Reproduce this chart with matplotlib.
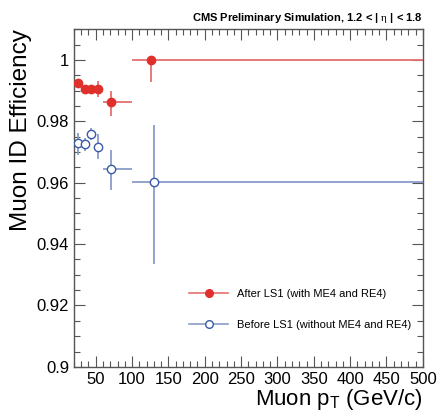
import numpy as np
import matplotlib
matplotlib.use('Agg')
from matplotlib import pyplot as plt
from matplotlib.lines import Line2D
from matplotlib.ticker import MultipleLocator

plt.rcParams['font.family'] = ['Liberation Sans', 'DejaVu Sans']
plt.rcParams['mathtext.fontset'] = 'custom'
plt.rcParams['mathtext.rm'] = 'Liberation Serif'
plt.rcParams['mathtext.sf'] = 'Liberation Sans'
plt.rcParams['mathtext.it'] = 'Liberation Serif:italic'
plt.rcParams['mathtext.bf'] = 'Liberation Sans:bold'

# pT bins (GeV/c)
bin_lo = [20, 30, 40, 50, 60, 100]
bin_hi = [30, 40, 50, 60, 100, 500]

# after LS1 (with ME4 and RE4)
pt_after = [25.5, 34.8, 43.9, 53.1, 70.7, 126.7]
eff_after = [0.9924, 0.9907, 0.9907, 0.9907, 0.9863, 1.0]
err_after_lo = [0.0012, 0.0008, 0.0008, 0.0026, 0.0045, 0.0071]
err_after_hi = [0.0012, 0.0008, 0.0008, 0.0025, 0.0035, 0.0]

# before LS1 (without ME4 and RE4)
pt_before = [25.0, 34.8, 43.9, 53.1, 70.7, 130.4]
eff_before = [0.9729, 0.9726, 0.9760, 0.9718, 0.9646, 0.9602]
err_before_lo = [0.0038, 0.0024, 0.0019, 0.0041, 0.0068, 0.0267]
err_before_hi = [0.0032, 0.0020, 0.0019, 0.0040, 0.0062, 0.0187]

RED = '#e0302c'
RED_LINE = '#e67070'
BLUE = '#3a5aa8'
BLUE_LINE = '#8a9cc8'

fig = plt.figure(figsize=(4.4, 4.15), dpi=100)
ax = fig.add_axes([0.168, 0.116, 0.793, 0.814])


def xerrs(pt):
    pt = np.array(pt)
    return [pt - np.array(bin_lo), np.array(bin_hi) - pt]


ax.errorbar(pt_before, eff_before, xerr=xerrs(pt_before),
            yerr=[err_before_lo, err_before_hi], fmt='o', ms=6,
            mfc='white', mec=BLUE, mew=1.0, ecolor=BLUE_LINE, elinewidth=1.3,
            capsize=0, zorder=3)
ax.errorbar(pt_after, eff_after, xerr=xerrs(pt_after),
            yerr=[err_after_lo, err_after_hi], fmt='o', ms=6,
            mfc=RED, mec=RED, ecolor=RED_LINE, elinewidth=1.3,
            capsize=0, zorder=4)

ax.set_xlim(20, 500)
ax.set_ylim(0.9, 1.0101)
ax.xaxis.set_major_locator(MultipleLocator(50))
ax.xaxis.set_minor_locator(MultipleLocator(10))
ax.yaxis.set_major_locator(MultipleLocator(0.02))
ax.yaxis.set_minor_locator(MultipleLocator(0.005))
ax.set_yticks([0.9, 0.92, 0.94, 0.96, 0.98, 1.0])
ax.set_yticklabels(['0.9', '0.92', '0.94', '0.96', '0.98', '1'])
ax.tick_params(which='both', direction='in', top=True, right=True,
               labelsize=12, width=0.8, color='#555555')
ax.tick_params(which='major', length=8)
ax.tick_params(which='minor', length=4)
ax.tick_params(axis='x', pad=4)
for s in ax.spines.values():
    s.set_color('#555555')
    s.set_linewidth(1.0)

ax.set_xlabel(r'Muon p$_{\mathsf{T}}$ (GeV/c)', fontsize=16, loc='right', labelpad=0)
ax.set_ylabel('Muon ID Efficiency', fontsize=17.5, loc='top', labelpad=3)

ax.text(1.0, 1.012, r'CMS Preliminary Simulation, 1.2 < | $\mathrm{\eta}$ | < 1.8',
        transform=ax.transAxes, ha='right', va='bottom', fontsize=8,
        fontweight='bold')

handles = [
    Line2D([], [], color=RED_LINE, lw=1.2, marker='o', ms=5.5, mfc=RED, mec=RED),
    Line2D([], [], color=BLUE_LINE, lw=1.2, marker='o', ms=5.5, mfc='white', mec=BLUE),
]
ax.legend(handles, ['After LS1 (with ME4 and RE4)', 'Before LS1 (without ME4 and RE4)'],
          loc='lower right', bbox_to_anchor=(0.995, 0.08), frameon=False,
          fontsize=8, handlelength=3.5, labelspacing=1.9, handletextpad=0.8)

fig.savefig('out.png', dpi=100)
